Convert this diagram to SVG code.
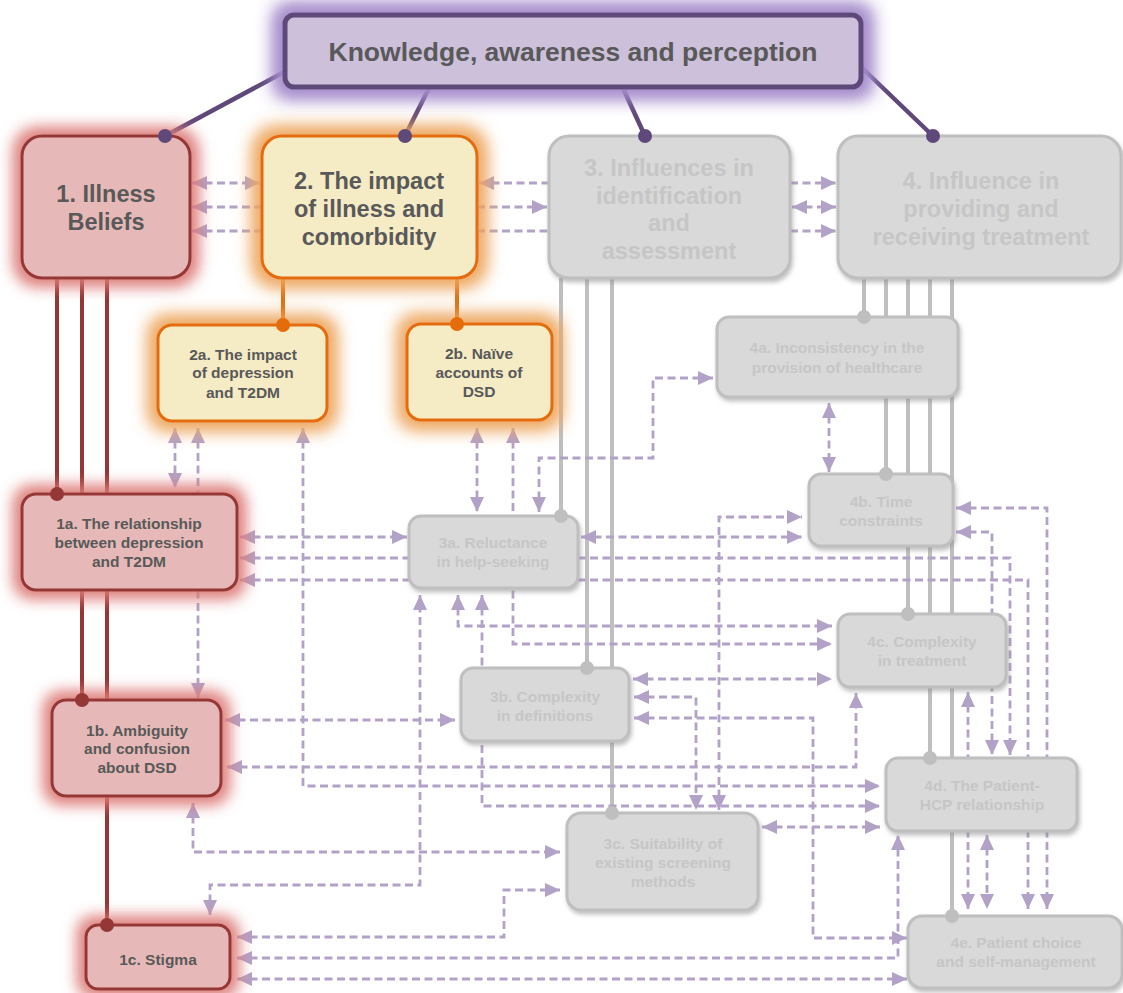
<svg xmlns="http://www.w3.org/2000/svg" width="1123" height="993" viewBox="0 0 1123 993">
  <style>
    .t { font-family: "Liberation Sans", Arial, sans-serif; font-weight: bold; text-anchor: middle; }
    .big { font-size: 23.5px; }
    .sm { font-size: 15.5px; }
    .dark { fill: #595959; }
    .pale { fill: #c6c6c6; }
    .red { fill: #e6b9b8; stroke: #953735; stroke-width: 3; }
    .org { fill: #f5ebc5; stroke: #e46c0a; stroke-width: 3; }
    .gry { fill: #d9d9d9; stroke: #bfbfbf; stroke-width: 3; }
    .dash { fill: none; stroke: #b3a2c7; stroke-width: 2.8; stroke-dasharray: 8 4.5; }
    .both { marker-start: url(#ah); marker-end: url(#ah); }
    .end { marker-end: url(#ah); }
    .start { marker-start: url(#ah); }
    .lp { stroke: #5f497a; stroke-width: 4.5; fill: none; }
    .lr { stroke: #953735; stroke-width: 4; fill: none; }
    .lo { stroke: #e46c0a; stroke-width: 4; fill: none; }
    .lg { stroke: #bfbfbf; stroke-width: 4; fill: none; }
  </style>
  <defs>
    <marker id="ah" viewBox="0 0 15 14" refX="15" refY="7" markerWidth="15" markerHeight="14" markerUnits="userSpaceOnUse" orient="auto-start-reverse">
      <path d="M0,0 L15,7 L0,14 z" fill="#b3a2c7"/>
    </marker>
    <filter id="glowP" x="-20%" y="-80%" width="140%" height="260%">
      <feMorphology in="SourceAlpha" operator="dilate" radius="7" result="d"/>
      <feGaussianBlur in="d" stdDeviation="9" result="b"/>
      <feFlood flood-color="#a58ccb" flood-opacity="0.95"/>
      <feComposite in2="b" operator="in" result="g"/>
      <feMerge><feMergeNode in="g"/><feMergeNode in="g"/><feMergeNode in="SourceGraphic"/></feMerge>
    </filter>
    <filter id="glowR" x="-40%" y="-50%" width="180%" height="200%">
      <feMorphology in="SourceAlpha" operator="dilate" radius="5" result="d"/>
      <feGaussianBlur in="d" stdDeviation="8" result="b"/>
      <feFlood flood-color="#dc7a77" flood-opacity="0.8"/>
      <feComposite in2="b" operator="in" result="g"/>
      <feMerge><feMergeNode in="g"/><feMergeNode in="g"/><feMergeNode in="SourceGraphic"/></feMerge>
    </filter>
    <filter id="glowO" x="-40%" y="-50%" width="180%" height="200%">
      <feMorphology in="SourceAlpha" operator="dilate" radius="6" result="d"/>
      <feGaussianBlur in="d" stdDeviation="9" result="b"/>
      <feFlood flood-color="#eda55c" flood-opacity="0.85"/>
      <feComposite in2="b" operator="in" result="g"/>
      <feMerge><feMergeNode in="g"/><feMergeNode in="g"/><feMergeNode in="SourceGraphic"/></feMerge>
    </filter>
    <filter id="shd" x="-20%" y="-20%" width="140%" height="150%">
      <feDropShadow dx="1.5" dy="3" stdDeviation="2" flood-color="#8c8c8c" flood-opacity="0.55"/>
    </filter>
  </defs>

  <!-- links: hierarchy lines and dashed relations, drawn beneath the boxes -->
  <g id="connectors">
    <path class="lp" d="M288,70 L165,136"/>
    <path class="lp" d="M430,86 L405,136"/>
    <path class="lp" d="M622,86 L645,136"/>
    <path class="lp" d="M860,66 L933,136"/>

    <path class="lr" d="M57,278 V494 M82,278 V700 M107,278 V925"/>
    <path class="lo" d="M283,278 V325 M457,278 V324"/>
    <path class="lg" d="M561,278 V516 M587,278 V668 M612,278 V813"/>
    <path class="lg" d="M864,278 V317 M886,278 V474 M908,278 V614 M930,278 V758 M952,278 V916"/>

    <!-- between the main themes -->
    <path class="dash both" d="M192,183 H260"/>
    <path class="dash start" d="M192,207 H262"/>
    <path class="dash start" d="M192,231 H262"/>
    <path class="dash start" d="M479,183 H549"/>
    <path class="dash end" d="M477,207 H547"/>
    <path class="dash" d="M477,231 H549"/>
    <path class="dash end" d="M790,183 H836"/>
    <path class="dash both" d="M792,207 H836"/>
    <path class="dash end" d="M790,231 H836"/>

    <!-- between the sub-themes -->
    <path class="dash both" d="M175,428 V488"/>
    <path class="dash both" d="M198,428 V698"/>
    <path class="dash both" d="M303,428 V786 H880"/>
    <path class="dash both" d="M240,537 H407"/>
    <path class="dash both" d="M240,558 H1010 V755"/>
    <path class="dash both" d="M240,580 H1028 V909"/>
    <path class="dash both" d="M477,428 V512"/>
    <path class="dash both" d="M513,428 V644 H832"/>
    <path class="dash both" d="M539,512 V458 H653 V378 H713"/>
    <path class="dash both" d="M829,403 V472"/>
    <path class="dash both" d="M581,537 H802"/>
    <path class="dash both" d="M719,810 V517 H802"/>
    <path class="dash both" d="M458,595 V626 H832"/>
    <path class="dash both" d="M633,679 H832"/>
    <path class="dash both" d="M482,595 V806 H880"/>
    <path class="dash both" d="M634,697 H696 V810"/>
    <path class="dash both" d="M634,718 H813 V938 H907"/>
    <path class="dash both" d="M225,720 H455"/>
    <path class="dash both" d="M227,767 H856 V693"/>
    <path class="dash both" d="M193,803 V852 H560"/>
    <path class="dash both" d="M762,827 H880"/>
    <path class="dash both" d="M210,915 V885 H420 V595"/>
    <path class="dash both" d="M237,937 H504 V890 H560"/>
    <path class="dash both" d="M237,958 H898 V835"/>
    <path class="dash both" d="M237,979 H907"/>
    <path class="dash both" d="M956,532 H992 V755"/>
    <path class="dash both" d="M956,508 H1047 V909"/>
    <path class="dash both" d="M968,692 V909"/>
    <path class="dash both" d="M987,835 V909"/>
  </g>

  <g id="knowledge">
    <rect x="285" y="15" width="576" height="72" rx="9" fill="#ccc0da" stroke="#5f497a" stroke-width="5" filter="url(#glowP)"/>
    <text class="t dark" x="573" y="61" font-size="26.5">Knowledge, awareness and perception</text>
  </g>

  <g id="n1">
    <rect class="red" x="22" y="136" width="168" height="142" rx="20" filter="url(#glowR)"/>
    <text class="t big dark" x="106" y="202">1. Illness</text>
    <text class="t big dark" x="106" y="230">Beliefs</text>
  </g>
  <g id="n2">
    <rect class="org" x="262" y="136" width="215" height="142" rx="20" filter="url(#glowO)"/>
    <text class="t big dark" x="369" y="189">2. The impact</text>
    <text class="t big dark" x="369" y="217">of illness and</text>
    <text class="t big dark" x="369" y="245">comorbidity</text>
  </g>
  <g id="n3">
    <rect class="gry" x="549" y="136" width="241" height="142" rx="20" filter="url(#shd)"/>
    <text class="t big pale" x="669" y="176">3. Influences in</text>
    <text class="t big pale" x="669" y="204">identification</text>
    <text class="t big pale" x="669" y="231">and</text>
    <text class="t big pale" x="669" y="259">assessment</text>
  </g>
  <g id="n4">
    <rect class="gry" x="838" y="136" width="283" height="142" rx="20" filter="url(#shd)"/>
    <text class="t big pale" x="981" y="189">4. Influence in</text>
    <text class="t big pale" x="981" y="217">providing and</text>
    <text class="t big pale" x="981" y="245">receiving treatment</text>
  </g>

  <g id="n1a">
    <rect class="red" x="22" y="494" width="215" height="96" rx="14" filter="url(#glowR)"/>
    <text class="t sm dark" x="129" y="529">1a. The relationship</text>
    <text class="t sm dark" x="129" y="548">between depression</text>
    <text class="t sm dark" x="129" y="567">and T2DM</text>
  </g>
  <g id="n1b">
    <rect class="red" x="52" y="700" width="169" height="96" rx="14" filter="url(#glowR)"/>
    <text class="t sm dark" x="137" y="736">1b. Ambiguity</text>
    <text class="t sm dark" x="137" y="754">and confusion</text>
    <text class="t sm dark" x="137" y="773">about DSD</text>
  </g>
  <g id="n1c">
    <rect class="red" x="86" y="925" width="144" height="64" rx="12" filter="url(#glowR)"/>
    <text class="t sm dark" x="158" y="965">1c. Stigma</text>
  </g>
  <g id="n2a">
    <rect class="org" x="158" y="325" width="169" height="96" rx="14" filter="url(#glowO)"/>
    <text class="t sm dark" x="243" y="360">2a. The impact</text>
    <text class="t sm dark" x="243" y="378">of depression</text>
    <text class="t sm dark" x="243" y="398">and T2DM</text>
  </g>
  <g id="n2b">
    <rect class="org" x="407" y="324" width="145" height="96" rx="14" filter="url(#glowO)"/>
    <text class="t sm dark" x="479" y="359">2b. Naïve</text>
    <text class="t sm dark" x="479" y="378">accounts of</text>
    <text class="t sm dark" x="479" y="397">DSD</text>
  </g>
  <g id="n3a">
    <rect class="gry" x="409" y="516" width="169" height="72" rx="12" filter="url(#shd)"/>
    <text class="t sm pale" x="493" y="548">3a. Reluctance</text>
    <text class="t sm pale" x="493" y="567">in help-seeking</text>
  </g>
  <g id="n3b">
    <rect class="gry" x="461" y="668" width="168" height="73" rx="12" filter="url(#shd)"/>
    <text class="t sm pale" x="545" y="702">3b. Complexity</text>
    <text class="t sm pale" x="545" y="721">in definitions</text>
  </g>
  <g id="n3c">
    <rect class="gry" x="567" y="813" width="191" height="97" rx="14" filter="url(#shd)"/>
    <text class="t sm pale" x="663" y="849">3c. Suitability of</text>
    <text class="t sm pale" x="663" y="868">existing screening</text>
    <text class="t sm pale" x="663" y="887">methods</text>
  </g>
  <g id="n4a">
    <rect class="gry" x="717" y="317" width="241" height="80" rx="12" filter="url(#shd)"/>
    <text class="t sm pale" x="837" y="353">4a. Inconsistency in the</text>
    <text class="t sm pale" x="837" y="373">provision of healthcare</text>
  </g>
  <g id="n4b">
    <rect class="gry" x="809" y="474" width="144" height="72" rx="12" filter="url(#shd)"/>
    <text class="t sm pale" x="881" y="507">4b. Time</text>
    <text class="t sm pale" x="881" y="526">constraints</text>
  </g>
  <g id="n4c">
    <rect class="gry" x="838" y="614" width="168" height="73" rx="12" filter="url(#shd)"/>
    <text class="t sm pale" x="922" y="647">4c. Complexity</text>
    <text class="t sm pale" x="922" y="666">in treatment</text>
  </g>
  <g id="n4d">
    <rect class="gry" x="886" y="758" width="191" height="73" rx="12" filter="url(#shd)"/>
    <text class="t sm pale" x="982" y="791">4d. The Patient-</text>
    <text class="t sm pale" x="982" y="810">HCP relationship</text>
  </g>
  <g id="n4e">
    <rect class="gry" x="908" y="916" width="214" height="72" rx="14" filter="url(#shd)"/>
    <text class="t sm pale" x="1016" y="948">4e. Patient choice</text>
    <text class="t sm pale" x="1016" y="967">and self-management</text>
  </g>

  <!-- joint dots where hierarchy lines meet their boxes -->
  <g id="joints">
    <circle cx="165" cy="136" r="7" fill="#5f497a"/>
    <circle cx="405" cy="136" r="7" fill="#5f497a"/>
    <circle cx="645" cy="136" r="7" fill="#5f497a"/>
    <circle cx="933" cy="136" r="7" fill="#5f497a"/>
    <circle cx="57" cy="494" r="7" fill="#953735"/>
    <circle cx="82" cy="700" r="7" fill="#953735"/>
    <circle cx="107" cy="925" r="7" fill="#953735"/>
    <circle cx="283" cy="325" r="7" fill="#e46c0a"/>
    <circle cx="457" cy="324" r="7" fill="#e46c0a"/>
    <circle cx="561" cy="516" r="7" fill="#bfbfbf"/>
    <circle cx="587" cy="668" r="7" fill="#bfbfbf"/>
    <circle cx="612" cy="813" r="7" fill="#bfbfbf"/>
    <circle cx="864" cy="317" r="7" fill="#bfbfbf"/>
    <circle cx="886" cy="474" r="7" fill="#bfbfbf"/>
    <circle cx="908" cy="614" r="7" fill="#bfbfbf"/>
    <circle cx="930" cy="758" r="7" fill="#bfbfbf"/>
    <circle cx="952" cy="916" r="7" fill="#bfbfbf"/>
  </g>
</svg>
